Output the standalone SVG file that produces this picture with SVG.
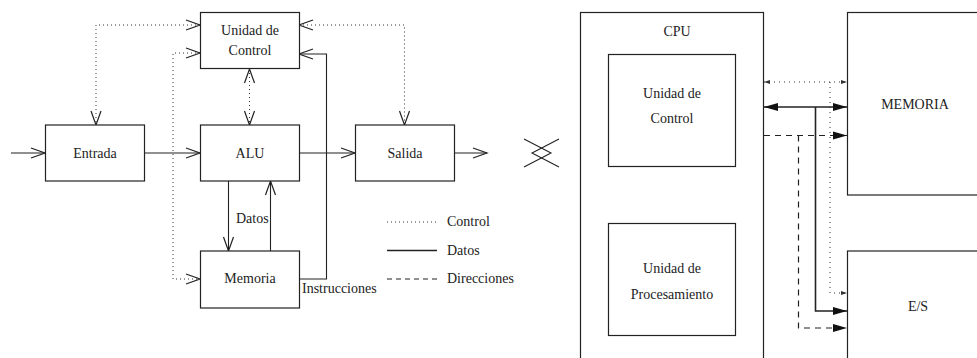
<svg xmlns="http://www.w3.org/2000/svg" width="977" height="358" viewBox="0 0 977 358">
<style>
text{font-family:"Liberation Serif","Times New Roman",serif;font-size:14px;fill:#222}
.box{fill:#fff;stroke:#222;stroke-width:1.2}
.ln{fill:none;stroke:#222;stroke-width:1.1}
.dot{fill:none;stroke:#333;stroke-width:1;stroke-dasharray:1 3}
.dotr{fill:none;stroke:#333;stroke-width:1;stroke-dasharray:1 4}
.sol{fill:none;stroke:#222;stroke-width:1.6}
.dash{fill:none;stroke:#222;stroke-width:1.2;stroke-dasharray:6 5}
.dashl{fill:none;stroke:#222;stroke-width:1.1;stroke-dasharray:5 4}
.c{text-anchor:middle}
</style>
<defs>
<marker id="open" markerUnits="userSpaceOnUse" markerWidth="16" markerHeight="12" refX="14" refY="5" orient="auto-start-reverse" overflow="visible">
<path d="M0,0 L14,5 L0,10" fill="none" stroke="#222" stroke-width="1.2"/>
</marker>
<marker id="fill" markerUnits="userSpaceOnUse" markerWidth="16" markerHeight="10" refX="14" refY="4" orient="auto-start-reverse" overflow="visible">
<path d="M0,0 L14,4 L0,8 z" fill="#111"/>
</marker>
<marker id="fills" markerUnits="userSpaceOnUse" markerWidth="8" markerHeight="6" refX="6" refY="2" orient="auto-start-reverse" overflow="visible">
<path d="M0,0 L6,2 L0,4 z" fill="#333"/>
</marker>
</defs>

<g id="connectors">
<line class="ln" x1="11" y1="153" x2="45" y2="153" marker-end="url(#open)"/>
<line class="ln" x1="144" y1="153" x2="200" y2="153" marker-end="url(#open)"/>
<line class="ln" x1="299" y1="153" x2="355" y2="153" marker-end="url(#open)"/>
<line class="ln" x1="454" y1="153" x2="487" y2="153" marker-end="url(#open)"/>
<polyline class="dot" points="200,25 96,25 96,125" marker-start="url(#open)" marker-end="url(#open)"/>
<polyline class="dot" points="200,53 173,53 173,279 200,279" marker-start="url(#open)" marker-end="url(#open)"/>
<polyline class="dot" points="299,25 404.5,25 404.5,125" marker-start="url(#open)" marker-end="url(#open)"/>
<line class="dot" x1="249.5" y1="69" x2="249.5" y2="125" marker-start="url(#open)" marker-end="url(#open)"/>
<line class="ln" x1="228.5" y1="181" x2="228.5" y2="251" marker-end="url(#open)"/>
<line class="ln" x1="270.5" y1="251" x2="270.5" y2="181" marker-end="url(#open)"/>
<polyline class="ln" points="299,279 326.5,279 326.5,54 299,54" marker-end="url(#open)"/>
<text x="236" y="223">Datos</text>
<text x="302" y="293">Instrucciones</text>

<line class="dotr" x1="764" y1="82" x2="847" y2="82" marker-start="url(#fills)" marker-end="url(#fills)"/>
<polyline class="dotr" points="830,82 830,293 847,293" marker-end="url(#fills)"/>
<line class="sol" x1="764" y1="107" x2="847" y2="107" marker-start="url(#fill)" marker-end="url(#fill)"/>
<polyline class="sol" points="815.5,107 815.5,311 847,311" marker-end="url(#fill)"/>
<line class="dash" x1="764" y1="135.5" x2="847" y2="135.5" marker-end="url(#fill)"/>
<polyline class="dash" points="798.5,135.5 798.5,328 847,328" marker-end="url(#fill)"/>
</g>

<g id="legend">
<line class="dot" x1="387" y1="222" x2="437" y2="222"/>
<text x="447" y="226">Control</text>
<line class="sol" x1="387" y1="250.5" x2="437" y2="250.5"/>
<text x="447" y="254.5">Datos</text>
<line class="dashl" x1="387" y1="279" x2="437" y2="279"/>
<text x="447" y="283">Direcciones</text>
</g>

<g id="control">
<rect class="box" x="200.5" y="12.5" width="99" height="56"/>
<text class="c" x="250" y="34.5">Unidad de</text>
<text class="c" x="250" y="55">Control</text>
</g>
<g id="entrada">
<rect class="box" x="45.5" y="125" width="99" height="56"/>
<text class="c" x="95" y="158">Entrada</text>
</g>
<g id="alu">
<rect class="box" x="200.5" y="125" width="99" height="56"/>
<text class="c" x="250" y="158">ALU</text>
</g>
<g id="salida">
<rect class="box" x="355.5" y="125" width="99" height="56"/>
<text class="c" x="405" y="158">Salida</text>
</g>
<g id="memoria">
<rect class="box" x="200.5" y="251" width="99" height="57"/>
<text class="c" x="250" y="283">Memoria</text>
</g>

<g id="separator">
<polyline class="ln" points="524,139 551,153 524,167"/>
<polyline class="ln" points="559,139 532,153 559,167"/>
</g>

<g id="cpu">
<rect class="box" x="580.5" y="12.5" width="183" height="360"/>
<text class="c" x="677" y="36">CPU</text>
</g>
<g id="cpu-control">
<rect class="box" x="608.5" y="54.5" width="127" height="112"/>
<text class="c" x="672" y="97.5">Unidad de</text>
<text class="c" x="672" y="122.5">Control</text>
</g>
<g id="cpu-procesamiento">
<rect class="box" x="608.5" y="223.5" width="127" height="112"/>
<text class="c" x="672" y="273">Unidad de</text>
<text class="c" x="672" y="299">Procesamiento</text>
</g>
<g id="memoria-bus">
<rect class="box" x="847.5" y="12.5" width="140" height="182.5"/>
<text class="c" x="915" y="108.5">MEMORIA</text>
</g>
<g id="es">
<rect class="box" x="847.5" y="251" width="140" height="130"/>
<text class="c" x="918" y="311">E/S</text>
</g>
</svg>
